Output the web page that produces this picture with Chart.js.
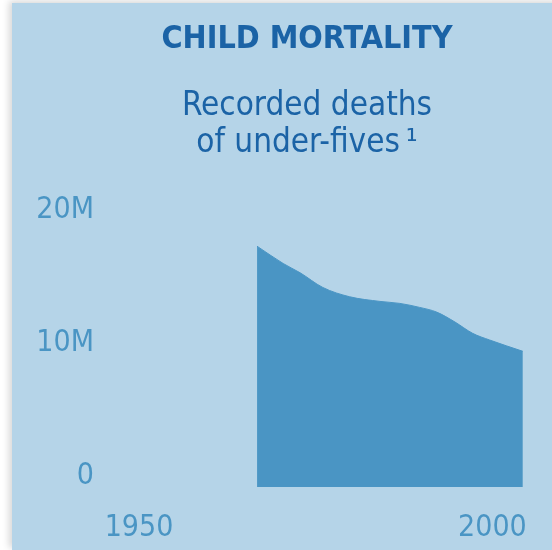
<!DOCTYPE html>
<html>
<head>
<meta charset="utf-8">
<script src="https://cdn.jsdelivr.net/npm/chart.js@4/dist/chart.umd.min.js"></script>
<style>
  html, body { margin: 0; padding: 0; background: #ffffff; overflow: hidden; }
  body { width: 552px; height: 550px; position: relative; }
  #panel {
    position: absolute; left: 12px; top: 3px; width: 590px; height: 547px;
    background: #b5d4e8;
    box-shadow: -3px -2px 7px rgba(0, 0, 0, 0.16);
  }
  #chart { display: block; }
</style>
</head>
<body>
<div id="panel"><canvas id="chart" width="590" height="547"></canvas></div>
<script>
// Recorded deaths of children under five, in millions
const years = [1966.7, 1970.4, 1972.8, 1976.0, 1979.8, 1984.1, 1986.9, 1989.7, 1992.1, 1994.7, 1997.2, 1999.6, 2004.3];
const deathsMillions = [18.1, 16.8, 16.1, 15.0, 14.3, 13.95, 13.8, 13.5, 13.15, 12.4, 11.55, 11.05, 10.2];

const xTicks = [1950, 2000];
const yTicks = [0, 10, 20];
const yTickLabels = ['0', '10M', '20M'];

const titleText = 'CHILD MORTALITY';
const subtitleLines = ['Recorded deaths', 'of under-fives\u2009\u00B9'];

const NARROW = '"DejaVu Sans Condensed", "Liberation Sans Narrow", "Liberation Sans", sans-serif';
const TICK_BLUE = '#4a95c4';
const AREA_BLUE = '#4a95c4';
const DARK_BLUE = '#1b63a6';

const points = years.map((yr, i) => ({ x: yr, y: deathsMillions[i] }));

new Chart(document.getElementById('chart'), {
  type: 'line',
  data: {
    datasets: [{
      data: points,
      fill: 'origin',
      backgroundColor: AREA_BLUE,
      borderColor: AREA_BLUE,
      borderWidth: 1,
      pointRadius: 0,
      cubicInterpolationMode: 'monotone'
    }]
  },
  options: {
    responsive: false,
    animation: false,
    events: [],
    layout: { padding: { left: 0, right: 0, top: 0, bottom: 4 } },
    plugins: {
      legend: { display: false },
      tooltip: { enabled: false },
      title: {
        display: true,
        text: titleText,
        color: DARK_BLUE,
        font: { family: NARROW, size: 32, weight: 'bold', lineHeight: 1 },
        padding: { top: 21, bottom: 0 }
      },
      subtitle: {
        display: true,
        text: subtitleLines,
        color: DARK_BLUE,
        font: { family: NARROW, size: 33, weight: 'normal', lineHeight: 1.12 },
        padding: { top: 31.5, bottom: 59.5 }
      }
    },
    scales: {
      x: {
        type: 'linear',
        min: 1945,
        max: 2015.5,
        grid: { display: false, drawTicks: false },
        border: { display: false },
        afterBuildTicks: (scale) => { scale.ticks = xTicks.map(v => ({ value: v })); },
        afterFit: (scale) => { scale.height = 59; },
        ticks: {
          color: TICK_BLUE,
          font: { family: NARROW, size: 30, lineHeight: 1.2 },
          padding: 23,
          maxRotation: 0,
          autoSkip: false,
          callback: (v) => String(v)
        }
      },
      y: {
        min: 0,
        max: 20,
        grid: { display: false, drawTicks: false },
        border: { display: false },
        afterFit: (scale) => {
          scale.width = 91.65;
          scale.paddingTop = 0;
          scale.paddingBottom = 0;
        },
        afterBuildTicks: (scale) => { scale.ticks = yTicks.map(v => ({ value: v })); },
        ticks: {
          color: TICK_BLUE,
          font: { family: NARROW, size: 30, lineHeight: 0.69 },
          padding: 9.65,
          autoSkip: false,
          // an empty second line lifts each label so its digits sit on the value
          callback: (v) => [yTickLabels[yTicks.indexOf(v)], '']
        }
      }
    }
  }
});
</script>
</body>
</html>
